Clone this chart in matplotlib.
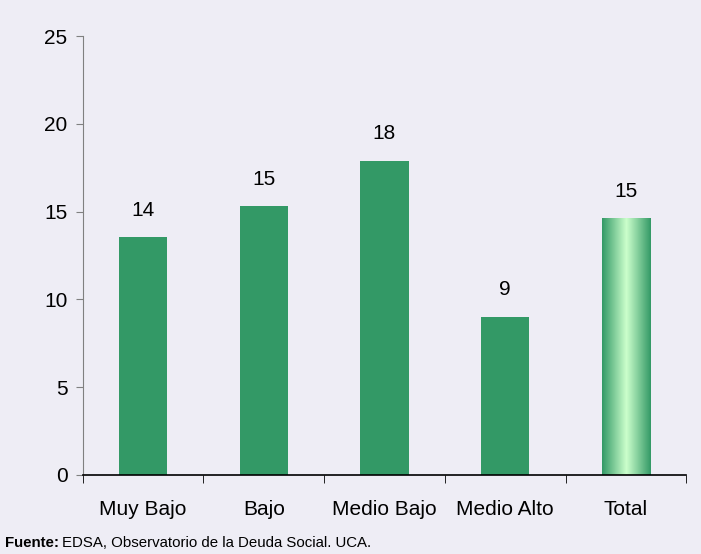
import numpy as np
import matplotlib.pyplot as plt
from matplotlib.colors import LinearSegmentedColormap

# Data
categories = ['Muy Bajo', 'Bajo', 'Medio Bajo', 'Medio Alto', 'Total']
values = [13.55, 15.3, 17.9, 9.0, 14.6]
labels = ['14', '15', '18', '9', '15']

bg = '#eeedf5'
green = '#339966'

plt.rcParams['font.family'] = ['Liberation Sans', 'DejaVu Sans']

fig = plt.figure(figsize=(7.01, 5.54), dpi=100, facecolor=bg)
ax = fig.add_axes([0.118, 0.1426, 0.861, 0.792], facecolor=bg)

x = np.arange(len(categories))
bars = ax.bar(x, values, width=0.4, color=green, zorder=2)

# gradient fill for the Total bar
tot = bars[-1]
tot.set_facecolor('none')
cmap = LinearSegmentedColormap.from_list('g', [green, '#ccffcc', green])
grad = np.linspace(0, 1, 256).reshape(1, -1)
ax.imshow(grad, cmap=cmap, aspect='auto', zorder=2,
          extent=[tot.get_x(), tot.get_x() + tot.get_width(), 0, tot.get_height()])

for xi, v, lab in zip(x, values, labels):
    ax.text(xi, v + 1.0, lab, ha='center', va='bottom', fontsize=15)

ax.set_xlim(-0.5, len(categories) - 0.5)
ax.set_ylim(0, 25)
ax.set_yticks(range(0, 26, 5))
ax.tick_params(axis='y', labelsize=15, length=5, color='#808080', pad=6)

ax.set_xticks(x)
ax.set_xticklabels(categories, fontsize=15)
ax.set_xticks(np.arange(-0.5, len(categories), 1), minor=True)
ax.tick_params(axis='x', which='major', length=0, pad=18)
ax.tick_params(axis='x', which='minor', length=6, color='black')

for s in ['top', 'right']:
    ax.spines[s].set_visible(False)
ax.spines['left'].set_color('#808080')
ax.spines['bottom'].set_color('black')
ax.spines['bottom'].set_linewidth(1.2)

# footer: bold "Fuente:" followed by normal text
t1 = fig.text(0.007, 0.007, 'Fuente:', fontsize=10.8, va='bottom', fontweight='bold')
fig.canvas.draw()
bb = t1.get_window_extent()
fig.text((bb.x1 + 3) / fig.bbox.width, 0.007,
         'EDSA, Observatorio de la Deuda Social. UCA.', fontsize=10.8, va='bottom')

fig.savefig('out.png', dpi=100, facecolor=bg)
